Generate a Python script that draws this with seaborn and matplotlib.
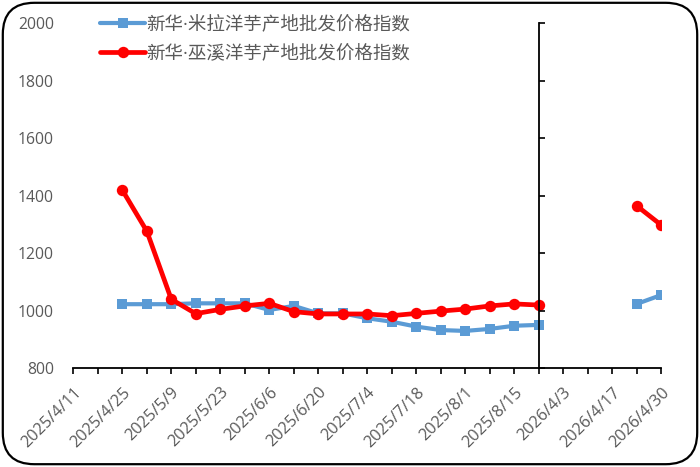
import numpy as np
import pandas as pd
import matplotlib
matplotlib.use("Agg")
import matplotlib.pyplot as plt
import matplotlib.transforms as mtransforms
from matplotlib.patches import FancyBboxPatch
import seaborn as sns

# ---- data ----
categories = ["2025/4/11", "2025/4/18", "2025/4/25", "2025/5/2", "2025/5/9", "2025/5/16",
              "2025/5/23", "2025/5/30", "2025/6/6", "2025/6/13", "2025/6/20", "2025/6/27",
              "2025/7/4", "2025/7/11", "2025/7/18", "2025/7/25", "2025/8/1", "2025/8/8",
              "2025/8/15", "2025/8/22", "2026/4/3", "2026/4/10", "2026/4/17", "2026/4/24",
              "2026/4/30"]
tick_labels = [c if i % 2 == 0 else "" for i, c in enumerate(categories)]
nan = np.nan
milan_values = [nan, nan, 1023, 1023, 1023, 1026, 1026, 1026, 1003, 1017, 991, 991,
                974, 962, 945, 933, 930, 937, 948, 951, nan, nan, nan, 1024, 1055]
wuxi_values = [nan, nan, 1420, 1277, 1040, 990, 1005, 1017, 1026, 997, 989, 989,
               989, 983, 991, 999, 1006, 1017, 1024, 1020, nan, nan, nan, 1365, 1298]
series_names = ["新华·米拉洋芋产地批发价格指数", "新华·巫溪洋芋产地批发价格指数"]
y_ticks = [800, 1000, 1200, 1400, 1600, 1800, 2000]

sns.set_theme(style="white")
plt.rcParams['font.family'] = ['Open Sans', 'Noto Sans CJK SC', 'DejaVu Sans']

fig = plt.figure(figsize=(7, 4.67), dpi=100)
ax = fig.add_axes([73.3 / 700, 1 - 368.3 / 467, (661.3 - 73.3) / 700, (368.3 - 23.3) / 467])

styles = [dict(color="#5B9BD5", marker="s", markersize=7.5, linewidth=3.0),
          dict(color="#FF0000", marker="o", markersize=8.2, linewidth=3.4)]

handles = []
for name, vals, st in zip(series_names, [milan_values, wuxi_values], styles):
    df = pd.DataFrame({"idx": np.arange(len(categories)), "value": vals})
    valid = df["value"].notna()
    df["seg"] = (valid != valid.shift()).cumsum()
    df = df[valid]
    for _, g in df.groupby("seg"):
        sns.lineplot(data=g, x="idx", y="value", ax=ax, color=st["color"], marker=st["marker"],
                     markersize=st["markersize"], linewidth=st["linewidth"],
                     markeredgecolor=st["color"], markeredgewidth=0, legend=False)
    handles.append(plt.Line2D([], [], color=st["color"], marker=st["marker"],
                              markersize=st["markersize"], linewidth=st["linewidth"],
                              markeredgewidth=0, label=name))

ax.set_xlim(0, len(categories) - 1)
ax.set_ylim(800, 2000)
ax.set_xlabel("")
ax.set_ylabel("")
ax.set_xticks(np.arange(len(categories)))
ax.set_xticklabels(tick_labels, rotation=45, ha="right", va="top", rotation_mode="anchor",
                   fontsize=11.8, color="#595959")
shift = mtransforms.ScaledTranslation(-3 / 100, 0, fig.dpi_scale_trans)
for lbl in ax.get_xticklabels():
    lbl.set_transform(lbl.get_transform() + shift)
ax.set_yticks(y_ticks)
ax.set_yticklabels([str(v) for v in y_ticks], fontsize=11.3, color="#595959")
ax.tick_params(axis="x", direction="out", length=4.5, width=1.2, color="black", pad=7, bottom=True)
ax.tick_params(axis="y", length=0, pad=14)
for s in ["top", "right", "left"]:
    ax.spines[s].set_visible(False)
ax.spines["bottom"].set_color("black")
ax.spines["bottom"].set_linewidth(1.3)
ax.grid(False)

# vertical axis line crossing at 2025/8/22
ax2 = ax.twinx()
ax2.set_ylim(800, 2000)
ax2.set_yticks(y_ticks)
ax2.set_yticklabels([])
for s in ["top", "left", "bottom"]:
    ax2.spines[s].set_visible(False)
ax2.spines["right"].set_position(("data", 19))
ax2.spines["right"].set_color("black")
ax2.spines["right"].set_linewidth(1.3)
ax2.tick_params(axis="y", direction="out", length=4.5, width=1.2, color="black", right=True)
ax2.grid(False)

leg = fig.legend(handles=handles, loc="upper left", bbox_to_anchor=(93 / 700, 1 - 8 / 467),
                 frameon=False, prop={"family": ['Open Sans', 'Noto Sans CJK SC'], "size": 13.3},
                 handlelength=2.4, handletextpad=0.1,
                 labelspacing=0.62, labelcolor="#595959", borderaxespad=0)

border = FancyBboxPatch((0.004, 0.006), 0.992, 0.988, boxstyle="round,pad=0,rounding_size=0.045",
                        transform=fig.transFigure, facecolor="none", edgecolor="black",
                        linewidth=1.6, mutation_aspect=700 / 467)
fig.patches.append(border)

fig.savefig("out.png", dpi=100)
